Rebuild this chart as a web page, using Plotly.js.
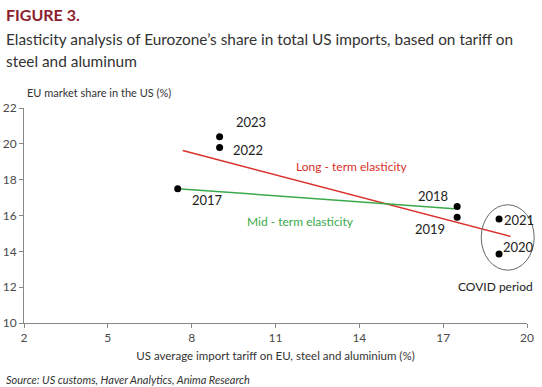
<!DOCTYPE html>
<html>
<head>
<meta charset="utf-8">
<script src="https://cdn.plot.ly/plotly-3.0.1.min.js"></script>
<style>
html,body{margin:0;padding:0;background:#fff;}
#chart{width:542px;height:387px;}
</style>
</head>
<body>
<div id="chart"></div>
<script>
// Data
const years = ["2017", "2018", "2019", "2020", "2021", "2022", "2023"];
const tariff = [7.5, 17.5, 17.5, 19.0, 19.0, 9.0, 9.0];
const share = [17.5, 16.5, 15.9, 13.85, 15.8, 19.8, 20.4];

// Elasticity lines (end points)
const longTermX = [7.68, 19.41];
const longTermY = [19.63, 14.83];
const midTermX = [7.5, 17.4];
const midTermY = [17.5, 16.38];

// Label anchor points (data coords) for year labels
const labelX = [8.56, 16.64, 16.54, 19.68, 19.71, 10.0, 10.12];
const labelY = [16.88, 17.07, 15.26, 14.22, 15.73, 19.67, 21.2];

const xTicks = [2, 5, 8, 11, 14, 17, 20];
const yTicks = [10, 12, 14, 16, 18, 20, 22];

const FONT = "Lato, 'Open Sans', sans-serif";

const traces = [
  {x: longTermX, y: longTermY, mode: "lines", line: {color: "#d9302b", width: 1.5}, hoverinfo: "skip", showlegend: false},
  {x: midTermX, y: midTermY, mode: "lines", line: {color: "#3aa94a", width: 1.5}, hoverinfo: "skip", showlegend: false},
  {x: tariff, y: share, mode: "markers", marker: {color: "#000", size: 7}, showlegend: false}
];

const annotations = years.map((yr, i) => ({
  x: labelX[i], y: labelY[i], xref: "x", yref: "y", text: yr, showarrow: false,
  font: {family: FONT, size: 13, color: "#222"}, xanchor: "center", yanchor: "middle"
}));

annotations.push(
  {x: 13.72, y: 18.74, xref: "x", yref: "y", text: "Long - term elasticity", showarrow: false,
   font: {family: FONT, size: 12, color: "#d9302b"}},
  {x: 11.9, y: 15.67, xref: "x", yref: "y", text: "Mid - term elasticity", showarrow: false,
   font: {family: FONT, size: 12, color: "#3aa94a"}},
  {x: 18.88, y: 12.01, xref: "x", yref: "y", text: "COVID period", showarrow: false,
   font: {family: FONT, size: 12, color: "#222"}},
  {x: 0.0, y: 1.0, xref: "paper", yref: "paper", xshift: 1, yshift: 16, text: "EU market share in the US (%)", showarrow: false,
   xanchor: "left", yanchor: "middle", font: {family: FONT, size: 11, color: "#333"}},
  {x: 0, y: 1, xref: "paper", yref: "paper", xshift: -20, yshift: 94, text: "<b>FIGURE 3.</b>", showarrow: false,
   xanchor: "left", yanchor: "middle", font: {family: FONT, size: 16, color: "#8c1d2e"}},
  {x: 0, y: 1, xref: "paper", yref: "paper", xshift: -20, yshift: 69, text: "Elasticity analysis of Eurozone’s share in total US imports, based on tariff on", showarrow: false,
   xanchor: "left", yanchor: "middle", font: {family: FONT, size: 15.4, color: "#333"}},
  {x: 0, y: 1, xref: "paper", yref: "paper", xshift: -20, yshift: 47, text: "steel and aluminum", showarrow: false,
   xanchor: "left", yanchor: "middle", font: {family: FONT, size: 15.4, color: "#333"}},
  {x: 0, y: 0, xref: "paper", yref: "paper", xshift: -20, yshift: -56, text: "<i>Source: US customs, Haver Analytics, Anima Research</i>", showarrow: false,
   xanchor: "left", yanchor: "middle", font: {family: FONT, size: 11, color: "#333"}}
);

const layout = {
  width: 542, height: 387,
  margin: {l: 24, r: 15, t: 108, b: 64},
  paper_bgcolor: "#fff", plot_bgcolor: "#fff",
  font: {family: FONT, size: 12, color: "#444"},
  xaxis: {
    range: [2, 20], tickvals: xTicks, ticktext: xTicks.map(String),
    showgrid: false, zeroline: false, showline: true, linecolor: "#888", linewidth: 1,
    ticks: "outside", ticklen: 4, tickcolor: "#888",
    tickfont: {family: FONT, size: 12, color: "#4a4a4a"},
    title: {text: "US average import tariff on EU, steel and aluminium (%)", font: {family: FONT, size: 11.5, color: "#333"}, standoff: 7}
  },
  yaxis: {
    range: [10, 22], tickvals: yTicks, ticktext: yTicks.map(String),
    showgrid: false, zeroline: false, showline: true, linecolor: "#888", linewidth: 1,
    ticks: "outside", ticklen: 4, tickcolor: "#888",
    tickfont: {family: FONT, size: 12, color: "#4a4a4a"}
  },
  shapes: [
    {type: "circle", xref: "paper", yref: "paper", x0: 0.909, x1: 1.0143, y0: 0.2456, y1: 0.55,
     line: {color: "#666", width: 1}, fillcolor: "rgba(0,0,0,0)"}
  ],
  annotations: annotations,
  showlegend: false
};

Plotly.newPlot("chart", traces, layout, {displayModeBar: false, staticPlot: true});
</script>
</body>
</html>
